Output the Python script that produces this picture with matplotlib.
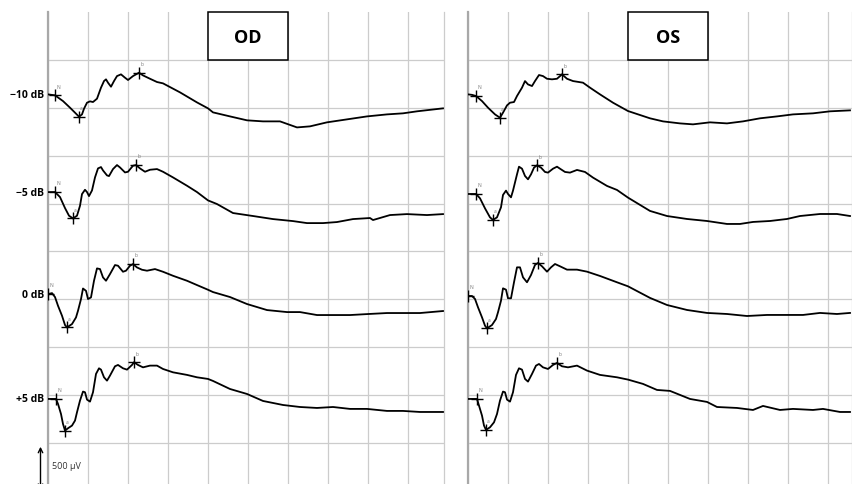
import numpy as np
import matplotlib
matplotlib.use("Agg")
import matplotlib.pyplot as plt
from matplotlib.patches import Rectangle

plt.rcParams['font.family'] = ['Open Sans', 'DejaVu Sans']

# stimulus steps, top to bottom
steps = ['\u221210 dB', '\u22125 dB', '0 dB', '+5 dB']

# baseline level of each trace on the page (uV); grid = 500 uV, 20 ms
od_base = [3640, 2620, 1555, 460]
os_base = [3640, 2600, 1535, 460]

# ---- OD (right eye) traces, time in ms, amplitude in uV re baseline
od_t0 = [0, 3.5, 7.5, 11, 13.5, 15.5, 17, 18, 19.5, 21, 22.5, 24.5, 26.5, 28, 29, 30, 31.5, 33, 34.5, 36.5, 38.5,
         40, 42.5, 45.5, 47.5, 51, 54.5, 57.5, 66, 74.5, 80, 82.5, 91, 99.5, 107.5, 116, 124.5, 131, 139.5, 149.5,
         159.5, 169.5, 177.5, 184.5, 197.5]
od_v0 = [0, -10, -70, -139, -191, -233, -209, -150, -87, -73, -80, -45, 70, 139, 157, 122, 80, 139, 191, 209, 174,
         150, 191, 226, 198, 163, 129, 115, 21, -84, -146, -188, -230, -271, -282, -282, -345, -334, -292, -261,
         -230, -209, -198, -177, -146]

od_t1 = [0, 3.5, 6, 8.5, 10.5, 12.5, 14.5, 16, 17, 18.5, 19.5, 20.5, 22, 23.5, 25, 26.5, 27.5, 29.5, 30.5, 32.5,
         34.5, 36, 38.5, 40, 42.5, 44, 46, 48.5, 51, 54.5, 57.5, 62.5, 69.5, 74.5, 80, 84.5, 92.5, 102.5, 112.5,
         122.5, 129.5, 137.5, 144.5, 152.5, 161, 162.5, 171, 179.5, 189.5, 197.5]
od_v1 = [0, 0, -52, -167, -247, -275, -247, -143, -21, 24, 0, -42, 17, 153, 247, 261, 226, 174, 167, 240,
         282, 257, 205, 212, 275, 282, 247, 212, 233, 240, 212, 153, 66, 0, -87, -125, -219, -250, -282,
         -303, -324, -324, -313, -282, -271, -292, -240, -230, -240, -230]

od_t2 = [0, 2, 3.5, 5, 7, 8.5, 9.5, 12, 14, 15, 16.5, 17.5, 19, 20, 21.5, 23, 24.5, 26, 27.5, 29, 31, 33.5, 35,
         37.5, 39, 41, 42.5, 44.5, 47, 49.5, 53.5, 57.5, 62.5, 69.5, 74.5, 80, 82.5, 91, 99.5, 109.5, 119.5, 126,
         134.5, 142.5, 151, 159.5, 169.5, 177.5, 186, 197.5]
od_v2 = [0, 10, -31, -122, -226, -323, -348, -313, -244, -174, -52, 58, 34, -52, -35, 139, 268, 261, 174, 139, 209,
         303, 296, 233, 244, 296, 313, 278, 254, 244, 261, 233, 191, 139, 94, 45, 21, -31, -104, -167, -188, -188,
         -219, -219, -219, -209, -198, -198, -198, -177]

od_t3 = [0, 4, 5, 6.5, 7.5, 8.5, 10, 12, 13.5, 14.5, 16, 17.5, 18.5, 19.5, 21, 22.5, 24, 25.5, 26.5, 28, 29.5, 31,
         33.5, 35, 37.5, 39.5, 42, 43, 45, 47.5, 51, 54.5, 57.5, 62.5, 69.5, 74.5, 80, 82.5, 91, 99.5, 107.5,
         117.5, 126, 134.5, 142.5, 151, 159.5, 169.5, 177.5, 186, 197.5]
od_v3 = [0, 0, -52, -157, -261, -330, -306, -278, -226, -139, -17, 77, 70, -7, -28, 70, 261, 320, 306, 226, 191,
         244, 341, 355, 320, 306, 355, 383, 355, 330, 348, 348, 313, 278, 251, 226, 209, 188, 104, 52, -21,
         -63, -84, -94, -84, -104, -104, -125, -125, -136, -136]

# ---- OS (left eye) traces
os_t0 = [0, 2, 4, 7, 10, 13.5, 16, 17.5, 19.5, 21, 23, 24.5, 27, 28.5, 30, 32, 33.5, 35.5, 37.5, 39.5, 42, 44.5,
         47, 49.5, 52.5, 57.5, 61, 66, 72.5, 80, 91, 97.5, 106, 112.5, 121, 129.5, 137.5, 146, 154.5, 162.5, 172.5,
         181, 191]
os_v0 = [0, -5, -17, -70, -139, -209, -244, -191, -115, -87, -80, -17, 70, 139, 104, 87, 139, 202, 191, 163, 157,
         163, 209, 163, 139, 122, 70, 0, -87, -174, -250, -282, -303, -313, -292, -303, -282, -250, -230, -209,
         -198, -177, -167]

os_t1 = [0, 4, 6, 8.5, 11, 12.5, 14.5, 16.5, 17.5, 19, 20, 21.5, 22.5, 24.5, 25.5, 27, 28.5, 30, 31.5, 33, 34.5,
         36.5, 38.5, 40, 42.5, 44.5, 46, 48.5, 51, 54.5, 58.5, 62.5, 69.5, 74.5, 80, 91, 99.5, 109.5, 119.5, 129.5,
         136, 142.5, 151, 159.5, 166, 176, 184.5, 191]
os_v1 = [0, 0, -45, -150, -244, -271, -244, -139, -10, 35, 0, -35, 35, 205, 285, 264, 188, 153, 205, 275, 299,
         275, 230, 223, 264, 285, 264, 230, 223, 251, 230, 171, 84, 42, -38, -177, -230, -261, -282, -313,
         -313, -292, -282, -261, -230, -209, -209, -230]

os_t2 = [0, 2, 3.5, 5, 7, 8.5, 9.5, 12, 14, 15, 16.5, 17.5, 19, 20, 21.5, 23, 24.5, 26, 27.5, 29.5, 31.5, 33.5,
         35, 37, 39.5, 41.5, 43.5, 46, 49.5, 54.5, 59.5, 66, 74.5, 80, 91, 99.5, 109.5, 119.5, 129.5, 139.5, 149.5,
         159.5, 167.5, 176, 184.5, 191]
os_v2 = [0, 0, -31, -118, -223, -310, -338, -303, -240, -170, -49, 80, 66, -24, -24, 143, 299, 299, 195, 143, 219,
         324, 345, 310, 254, 299, 334, 310, 275, 275, 254, 209, 143, 101, -20, -94, -146, -177, -188, -209, -198,
         -198, -198, -177, -188, -177]

os_t3 = [0, 4.5, 5.5, 7, 8, 9, 11, 13, 14.5, 16, 17.5, 18.5, 19.5, 21, 22.5, 24, 25.5, 27, 28.5, 30, 32, 34, 35.5,
         37.5, 40, 42.5, 44.5, 47, 50, 54.5, 59.5, 66, 74.5, 80, 87.5, 94.5, 101, 111, 119.5, 124.5, 134.5, 142.5,
         147.5, 156, 162.5, 172.5, 177.5, 186, 191]
os_v3 = [0, 0, -70, -174, -278, -323, -296, -244, -157, -17, 77, 70, -7, -28, 70, 251, 320, 306, 209, 181, 261, 348,
         365, 330, 313, 355, 376, 341, 330, 348, 296, 251, 226, 202, 157, 94, 84, 0, -31, -84, -94, -115,
         -73, -115, -104, -115, -104, -136, -136]

od_t = [od_t0, od_t1, od_t2, od_t3]
od_v = [od_v0, od_v1, od_v2, od_v3]
os_t = [os_t0, os_t1, os_t2, os_t3]
os_v = [os_v0, os_v1, os_v2, os_v3]

# marker indices (N, a, b) in each trace
od_marks = [(1, 5, 23), (1, 5, 25), (0, 6, 26), (1, 5, 27)]
os_marks = [(2, 6, 22), (1, 5, 20), (0, 6, 22), (1, 5, 26)]

W, H = 852, 485
fig = plt.figure(figsize=(W / 100, H / 100), dpi=100)
ax_l = fig.add_axes([48 / W, 0, 396 / W, 472 / H])
ax_r = fig.add_axes([468 / W, 0, 384 / W, 472 / H])


def setup(ax, xmax):
    ax.set_xlim(0, xmax)
    ax.set_ylim(-428, 4500)
    ax.set_xticks(np.arange(0, xmax, 20))
    ax.set_yticks(np.arange(0, 4001, 500))
    ax.grid(True, color='#cccccc', lw=0.9)
    ax.set_axisbelow(True)
    ax.tick_params(length=0, labelbottom=False, labelleft=False)
    for s in ['top', 'bottom']:
        ax.spines[s].set_visible(False)
    ax.spines['left'].set_color('#a8a8a8')
    ax.spines['left'].set_linewidth(1.6)
    ax.spines['right'].set_color('#cccccc')
    ax.spines['right'].set_linewidth(0.9)


def draw_eye(ax, ts, vs, base, marks, name):
    for t, v, b, mk in zip(ts, vs, base, marks):
        t = np.array(t)
        v = np.array(v) + b
        ax.plot(t, v, color='black', lw=1.3, zorder=3, solid_joinstyle='round')
        for idx, lab in zip(mk, ['N', 'a', 'b']):
            ax.plot(t[idx], v[idx], marker='+', ms=9, mew=1.0, color='black', zorder=4)
            ax.text(t[idx] + 0.6, v[idx] + 70, lab, fontsize=3.5, color='#777777',
                    ha='left', va='bottom', zorder=4)
    ax.add_patch(Rectangle((80, 4000), 40, 500, facecolor='white', edgecolor='black',
                           lw=1.1, zorder=5, clip_on=False))
    ax.text(100, 4240, name, fontsize=13, fontweight='bold', ha='center', va='center', zorder=6)


setup(ax_l, 198)
setup(ax_r, 192)
draw_eye(ax_l, od_t, od_v, od_base, od_marks, 'OD')
draw_eye(ax_r, os_t, os_v, os_base, os_marks, 'OS')

for lab, b in zip(steps, od_base):
    ax_l.text(-2, b, lab, fontsize=7.5, fontweight='bold', ha='right', va='center', clip_on=False)

# scale bar
ann = ax_l.annotate('', xy=(-3.75, -10), xytext=(-3.75, -520),
                    arrowprops=dict(arrowstyle='<->', lw=1.0, color='black', mutation_scale=8),
                    annotation_clip=False)
ann.arrow_patch.set_clip_on(False)
ax_l.text(2, -240, '500 \u00b5V', fontsize=6.5, color='#333333', ha='left', va='center')

fig.savefig('out.png', dpi=100)
